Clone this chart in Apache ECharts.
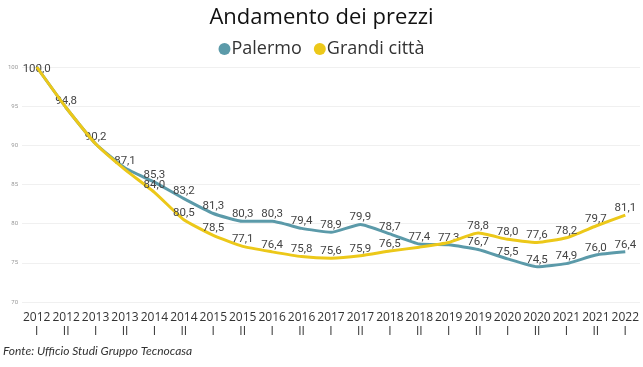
<!DOCTYPE html>
<html>
<head>
<meta charset="utf-8">
<script src="https://cdn.jsdelivr.net/npm/echarts@6/dist/echarts.min.js"></script>
<style>
html,body{margin:0;padding:0;background:#fff;}
#chart{width:643px;height:367px;}
</style>
</head>
<body>
<div id="chart"></div>
<script>
const years = ['2012','2012','2013','2013','2014','2014','2015','2015','2016','2016','2017','2017','2018','2018','2019','2019','2020','2020','2021','2021','2022'];
const semesters = ['I','II','I','II','I','II','I','II','I','II','I','II','I','II','I','II','I','II','I','II','I'];
const palermo = [100.0,94.8,90.2,87.1,85.3,83.2,81.3,80.3,80.3,79.4,78.9,79.9,78.7,77.4,77.3,76.7,75.5,74.5,74.9,76.0,76.4];
const grandiCitta = [100.0,94.8,90.2,86.9,84.0,80.5,78.5,77.1,76.4,75.8,75.6,75.9,76.5,77.0,77.6,78.8,78.0,77.6,78.2,79.7,81.1];
const grandiHiddenLabels = [0,1,2,3,13,14];
const yTicks = [70,75,80,85,90,95,100];

const categories = years.map((y,i)=>y+'\n'+semesters[i]);

const fmt = v => v.toFixed(1).replace('.', ',');
const labelStyle = {show:true, position:'top', distance:1, fontFamily:'Roboto', fontSize:11.5, color:'#444', formatter:p=>fmt(p.value)};

const palData = palermo.map((v,i)=> i===0 ? {value:v, label:{position:'bottom', distance:-4}} : v);
const graData = grandiCitta.map((v,i)=> grandiHiddenLabels.includes(i) ? {value:v, label:{show:false}} : v);

const chart = echarts.init(document.getElementById('chart'));
chart.setOption({
  animation:false,
  title:{text:'Andamento dei prezzi', left:'center', top:2, textStyle:{fontFamily:'Open Sans', fontWeight:'normal', fontSize:22, color:'#111'}},
  legend:{top:35, left:'center', itemGap:12, icon:'circle', itemWidth:12, itemHeight:12,
    textStyle:{fontFamily:'Open Sans', fontSize:18, color:'#333', padding:[0,0,0,-4]},
    data:['Palermo','Grandi città']},
  grid:{left:22, right:3, top:67, bottom:65},
  xAxis:{type:'category', data:categories, boundaryGap:true,
    axisLine:{show:false}, axisTick:{show:false},
    axisLabel:{interval:0, fontFamily:'Open Sans', fontSize:12, color:'#333', lineHeight:14, margin:9}},
  yAxis:{type:'value', min:70, max:100, interval:5,
    axisLabel:{fontSize:6, color:'#999', margin:4, fontFamily:'Roboto'},
    splitLine:{lineStyle:{color:'#f0f0f0', width:1}},
    axisLine:{show:false}, axisTick:{show:false}},
  series:[
    {name:'Palermo', type:'line', data:palData, smooth:0.15, symbol:'circle', symbolSize:0.01, showSymbol:true, z:2,
     lineStyle:{color:'#5b9aa9', width:3}, itemStyle:{color:'#5b9aa9'}, label:labelStyle},
    {name:'Grandi città', type:'line', data:graData, smooth:0.15, symbol:'circle', symbolSize:0.01, showSymbol:true, z:3,
     lineStyle:{color:'#ecc819', width:3}, itemStyle:{color:'#ecc819'}, label:labelStyle}
  ],
  graphic:[
    {type:'text', left:3, top:345, style:{text:'Fonte: Ufficio Studi Gruppo Tecnocasa', font:'italic 12px Lato', fill:'#333'}}
  ]
});
</script>
</body>
</html>
